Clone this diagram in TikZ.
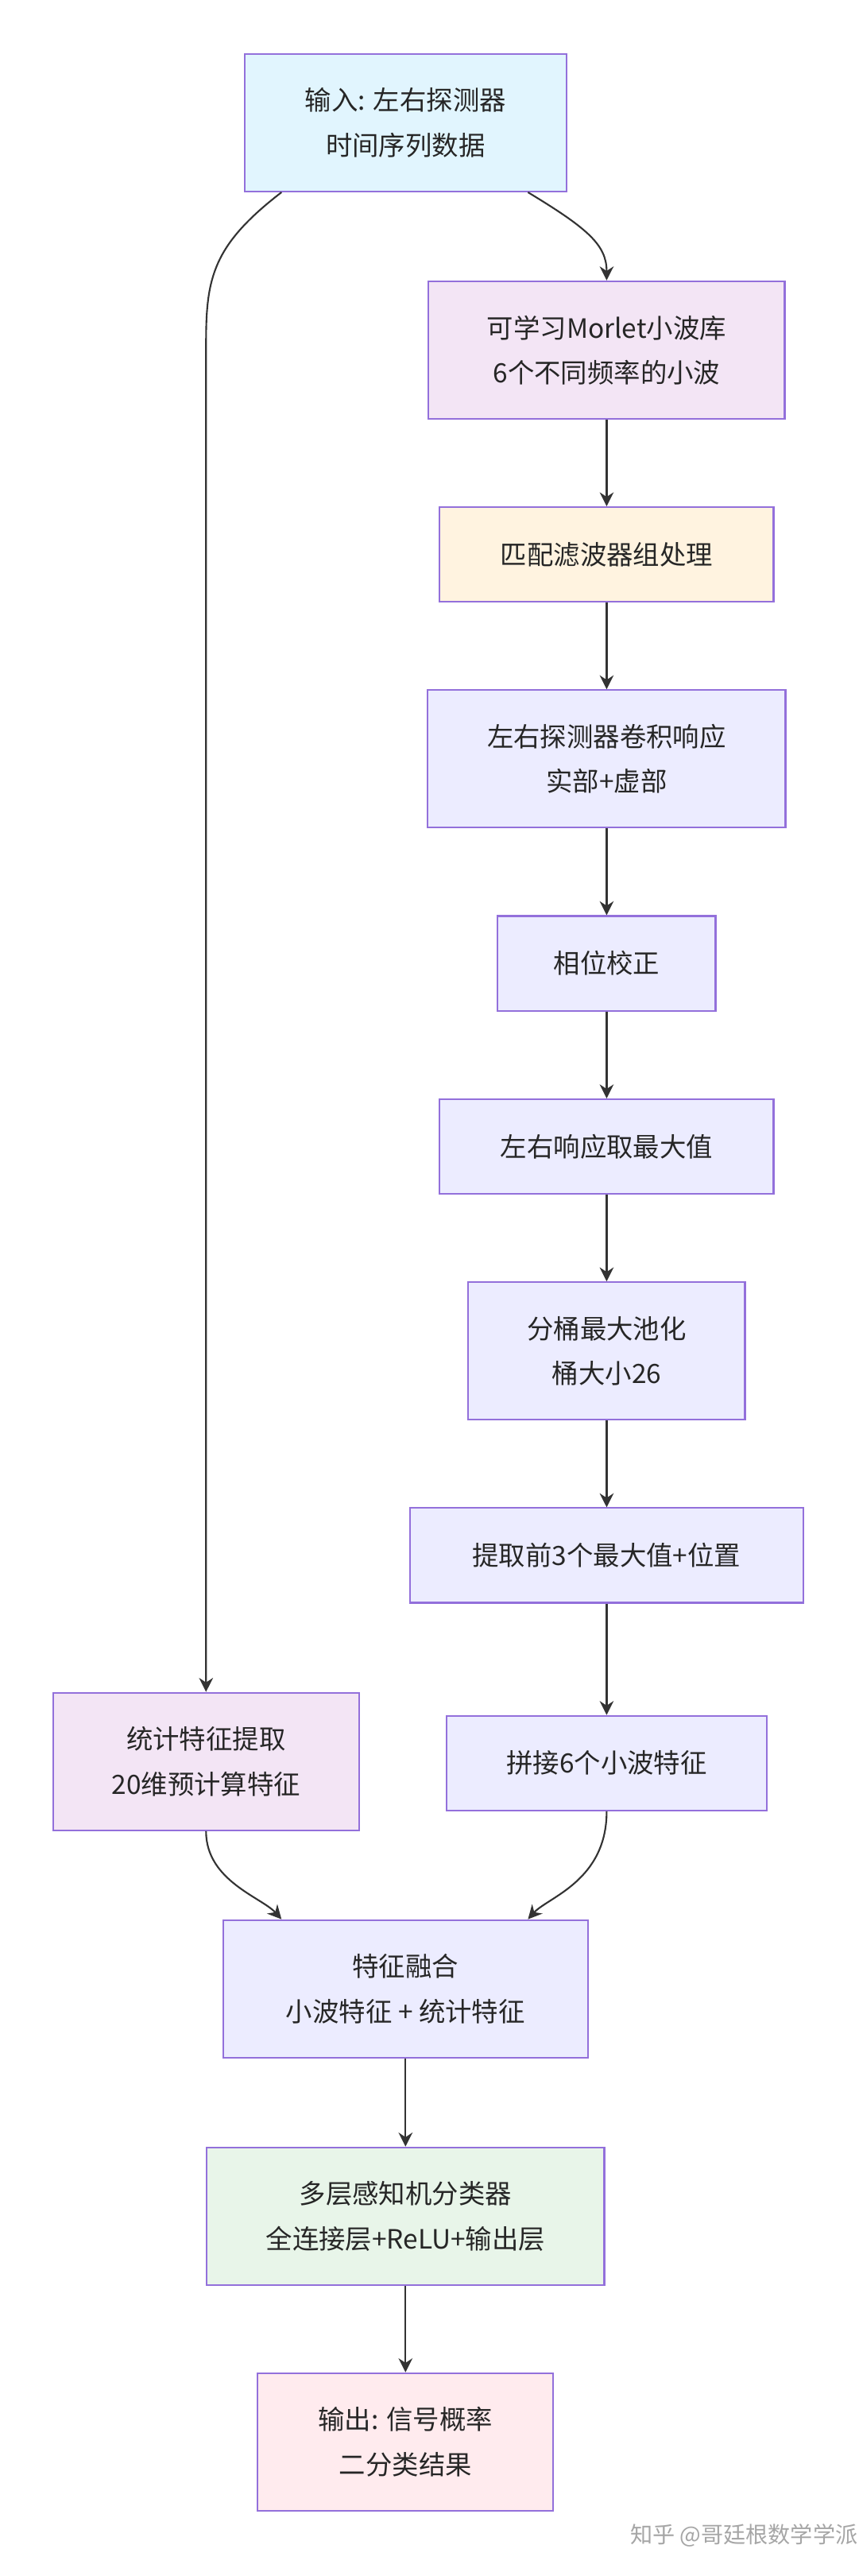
\documentclass[tikz,border=0pt]{standalone}
\usepackage{fontspec}
\setmainfont{Noto Sans CJK SC}
\usetikzlibrary{arrows.meta}
\definecolor{edge}{HTML}{9370DB}
\definecolor{line}{HTML}{333333}
\definecolor{cin}{HTML}{E1F5FE}
\definecolor{cwav}{HTML}{F3E5F5}
\definecolor{cfil}{HTML}{FFF3E0}
\definecolor{cstep}{HTML}{ECECFF}
\definecolor{cmlp}{HTML}{E8F5E9}
\definecolor{cout}{HTML}{FFEBEE}
\tikzset{
 box/.style={draw=edge, line width=0.6pt, align=center, font=\fontsize{9.5}{16}\selectfont, text=black!85, inner sep=0pt},
 two/.style={minimum height=1.73cm},
 one/.style={minimum height=1.19cm},
 flow/.style={-{Stealth[length=5pt,width=5pt]}, line, line width=0.6pt}
}
\begin{document}
\begin{tikzpicture}[x=0.02057cm,y=-0.02057cm]
 \useasboundingbox[fill=white] (0,0) rectangle (525,1575);
 \node[box,two,fill=cin,minimum width=4.05cm]   (in)   at (248,75)   {输入: 左右探测器\\时间序列数据};
 \node[box,two,fill=cwav,minimum width=4.48cm]  (wav)  at (371,214)  {可学习Morlet小波库\\6个不同频率的小波};
 \node[box,one,fill=cfil,minimum width=4.20cm]  (fil)  at (371,339)  {匹配滤波器组处理};
 \node[box,two,fill=cstep,minimum width=4.50cm] (conv) at (371,464)  {左右探测器卷积响应\\实部+虚部};
 \node[box,one,fill=cstep,minimum width=2.74cm] (pha)  at (371,589)  {相位校正};
 \node[box,one,fill=cstep,minimum width=4.20cm] (max)  at (371,701)  {左右响应取最大值};
 \node[box,two,fill=cstep,minimum width=3.48cm] (pool) at (371,826)  {分桶最大池化\\桶大小26};
 \node[box,one,fill=cstep,minimum width=4.94cm] (top)  at (371,951)  {提取前3个最大值+位置};
 \node[box,one,fill=cstep,minimum width=4.03cm] (cat)  at (371,1078) {拼接6个小波特征};
 \node[box,two,fill=cwav,minimum width=3.85cm]  (stat) at (126,1077) {统计特征提取\\20维预计算特征};
 \node[box,two,fill=cstep,minimum width=4.59cm] (fus)  at (248,1216) {特征融合\\小波特征 + 统计特征};
 \node[box,two,fill=cmlp,minimum width=5.00cm]  (mlp)  at (248,1355) {多层感知机分类器\\全连接层+ReLU+输出层};
 \node[box,two,fill=cout,minimum width=3.72cm]  (out)  at (248,1493) {输出: 信号概率\\二分类结果};
 \node[text=black!35, font=\fontsize{8}{10}\selectfont] (mark) at (455,1550) {知乎 @哥廷根数学学派};
 %
 \draw[flow] ([xshift=1.54cm]in.south) .. controls (360,140) and (371,150) .. (wav.north);
 \draw[flow] ([xshift=-1.56cm]in.south) .. controls (130,150) and (126,170) .. (126,210) -- (stat.north);
 \foreach \a/\b in {wav/fil,fil/conv,conv/pha,pha/max,max/pool,pool/top,top/cat,fus/mlp,mlp/out}
  \draw[flow] (\a) -- (\b);
 \draw[flow] (stat.south) .. controls (126,1150) and (160,1160) .. ([xshift=-1.56cm]fus.north);
 \draw[flow] (cat.south) .. controls (371,1150) and (335,1160) .. ([xshift=1.54cm]fus.north);
\end{tikzpicture}
\end{document}
